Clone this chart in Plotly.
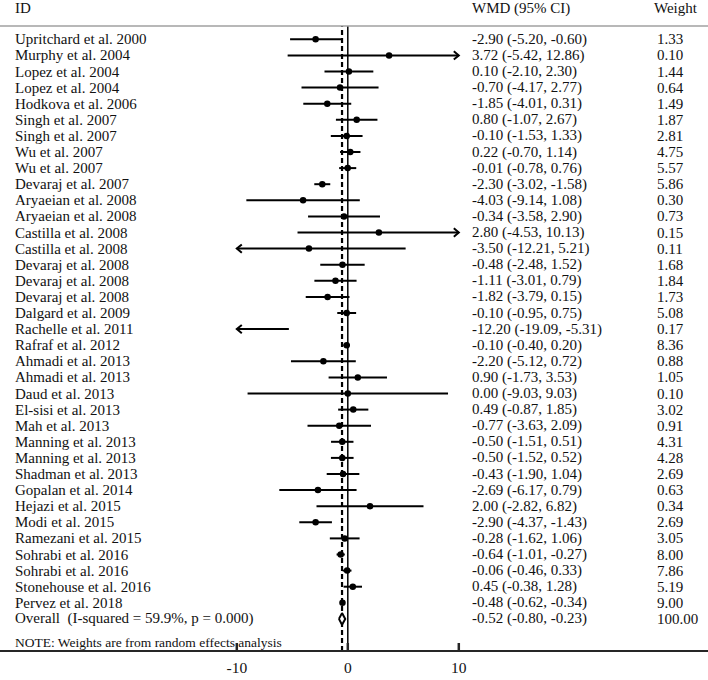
import plotly.graph_objects as go

# ---------------- data ----------------
studies = [
    "Upritchard et al. 2000", "Murphy et al. 2004", "Lopez et al. 2004", "Lopez et al. 2004",
    "Hodkova et al. 2006", "Singh et al. 2007", "Singh et al. 2007", "Wu et al. 2007",
    "Wu et al. 2007", "Devaraj et al. 2007", "Aryaeian et al. 2008", "Aryaeian et al. 2008",
    "Castilla et al. 2008", "Castilla et al. 2008", "Devaraj et al. 2008", "Devaraj et al. 2008",
    "Devaraj et al. 2008", "Dalgard et al. 2009", "Rachelle et al. 2011", "Rafraf et al. 2012",
    "Ahmadi et al. 2013", "Ahmadi et al. 2013", "Daud et al. 2013", "El-sisi et al. 2013",
    "Mah et al. 2013", "Manning et al. 2013", "Manning et al. 2013", "Shadman et al. 2013",
    "Gopalan et al. 2014", "Hejazi et al. 2015", "Modi et al. 2015", "Ramezani et al. 2015",
    "Sohrabi et al. 2016", "Sohrabi et al. 2016", "Stonehouse et al. 2016", "Pervez et al. 2018",
]
wmd = [-2.90, 3.72, 0.10, -0.70, -1.85, 0.80, -0.10, 0.22, -0.01, -2.30, -4.03, -0.34,
       2.80, -3.50, -0.48, -1.11, -1.82, -0.10, -12.20, -0.10, -2.20, 0.90, 0.00, 0.49,
       -0.77, -0.50, -0.50, -0.43, -2.69, 2.00, -2.90, -0.28, -0.64, -0.06, 0.45, -0.48]
ci_low = [-5.20, -5.42, -2.10, -4.17, -4.01, -1.07, -1.53, -0.70, -0.78, -3.02, -9.14, -3.58,
          -4.53, -12.21, -2.48, -3.01, -3.79, -0.95, -19.09, -0.40, -5.12, -1.73, -9.03, -0.87,
          -3.63, -1.51, -1.52, -1.90, -6.17, -2.82, -4.37, -1.62, -1.01, -0.46, -0.38, -0.62]
ci_high = [-0.60, 12.86, 2.30, 2.77, 0.31, 2.67, 1.33, 1.14, 0.76, -1.58, 1.08, 2.90,
           10.13, 5.21, 1.52, 0.79, 0.15, 0.75, -5.31, 0.20, 0.72, 3.53, 9.03, 1.85,
           2.09, 0.51, 0.52, 1.04, 0.79, 6.82, -1.43, 1.06, -0.27, 0.33, 1.28, -0.34]
weights = [1.33, 0.10, 1.44, 0.64, 1.49, 1.87, 2.81, 4.75, 5.57, 5.86, 0.30, 0.73,
           0.15, 0.11, 1.68, 1.84, 1.73, 5.08, 0.17, 8.36, 0.88, 1.05, 0.10, 3.02,
           0.91, 4.31, 4.28, 2.69, 0.63, 0.34, 2.69, 3.05, 8.00, 7.86, 5.19, 9.00]

overall_label = "Overall  (I-squared = 59.9%, p = 0.000)"
overall_wmd, overall_low, overall_high, overall_weight = -0.52, -0.80, -0.23, 100.00
note_text = "NOTE: Weights are from random effects analysis"
tick_values = [-10, 0, 10]
tick_labels = ["-10", "0", "10"]
clip_lo, clip_hi = -10, 10

# ---------------- layout constants ----------------
W, H = 708, 680
FONT = "Liberation Serif"
TXT = "#111111"
AXIS_COLOR = "#262626"
ROW0_PX, ROW_STEP = 39.3, 16.1
TOP_PX, BOT_PX = 26, 651
PLOT_H = BOT_PX - TOP_PX
ZERO_PX, PX_PER_UNIT = 347.8, 11.1
TICK_LEN_PX = 8

def px_to_row(px):
    return 1 + (px - ROW0_PX) / ROW_STEP

n = len(studies)
rows = list(range(1, n + 1))
overall_row = n + 1

fig = go.Figure()

# CI lines (clipped)
lx, ly = [], []
for r, lo, hi in zip(rows, ci_low, ci_high):
    lx += [max(lo, clip_lo), min(hi, clip_hi), None]
    ly += [r, r, None]
fig.add_trace(go.Scatter(x=lx, y=ly, mode="lines", line=dict(color="black", width=2),
                         hoverinfo="skip", showlegend=False))

# arrow heads for clipped CIs
ax, ay = [], []
ah_w, ah_h = 0.45, 0.26
for r, lo, hi in zip(rows, ci_low, ci_high):
    if hi > clip_hi:
        ax += [clip_hi - ah_w, clip_hi, clip_hi - ah_w, None]
        ay += [r - ah_h, r, r + ah_h, None]
    if lo < clip_lo:
        ax += [clip_lo + ah_w, clip_lo, clip_lo + ah_w, None]
        ay += [r - ah_h, r, r + ah_h, None]
fig.add_trace(go.Scatter(x=ax, y=ay, mode="lines", line=dict(color="black", width=2),
                         hoverinfo="skip", showlegend=False))

# point estimates within range
px_, py_ = [], []
for r, e in zip(rows, wmd):
    if clip_lo <= e <= clip_hi:
        px_.append(e)
        py_.append(r)
fig.add_trace(go.Scatter(x=px_, y=py_, mode="markers",
                         marker=dict(symbol="circle", size=6.5, color="black"),
                         hoverinfo="skip", showlegend=False))

# overall diamond
dh = 0.36
fig.add_trace(go.Scatter(
    x=[overall_low, overall_wmd, overall_high, overall_wmd, overall_low],
    y=[overall_row, overall_row - dh, overall_row, overall_row + dh, overall_row],
    mode="lines", fill="toself", fillcolor="white",
    line=dict(color="black", width=2), hoverinfo="skip", showlegend=False))

# reference lines
fig.add_shape(type="line", x0=0, x1=0, xref="x", y0=0, y1=1, yref="paper",
              line=dict(color="black", width=1.5), layer="below")
fig.add_shape(type="line", x0=overall_wmd, x1=overall_wmd, xref="x", y0=0, y1=1, yref="paper",
              line=dict(color="black", width=2.2, dash="5px,3px"), layer="below")
# header rule
fig.add_shape(type="line", x0=0, x1=1, xref="paper", y0=1, y1=1, yref="paper",
              line=dict(color="#a0a0a0", width=1.5))
# bottom axis rule and tick marks
fig.add_shape(type="line", x0=0, x1=1, xref="paper", y0=0, y1=0, yref="paper",
              line=dict(color=AXIS_COLOR, width=2))
for tv in tick_values:
    fig.add_shape(type="line", x0=tv, x1=tv, xref="x", y0=0, y1=TICK_LEN_PX / PLOT_H,
                  yref="paper", line=dict(color=AXIS_COLOR, width=2.5))

annotations = []
X_ID, X_WMD, X_WT = 13 / W, 470 / W, 655 / W
FS = 15
header_y = (BOT_PX - 8) / PLOT_H
for txt, x in [("ID", X_ID), ("WMD (95% CI)", X_WMD), ("Weight", X_WT - 3 / W)]:
    annotations.append(dict(x=x, y=header_y, xref="paper", yref="paper", text=txt,
                            showarrow=False, xanchor="left", yanchor="middle",
                            font=dict(family=FONT, size=FS, color=TXT)))

def fmt(v):
    return f"{v:.2f}"

all_labels = studies + [overall_label]
all_est = wmd + [overall_wmd]
all_lo = ci_low + [overall_low]
all_hi = ci_high + [overall_high]
all_wt = weights + [overall_weight]
for r, lab, e, lo, hi, wt in zip(rows + [overall_row], all_labels, all_est, all_lo, all_hi, all_wt):
    annotations.append(dict(x=X_ID, y=r, xref="paper", yref="y", text=lab, showarrow=False,
                            xanchor="left", yanchor="middle",
                            font=dict(family=FONT, size=FS, color=TXT)))
    annotations.append(dict(x=X_WMD, y=r, xref="paper", yref="y",
                            text=f"{fmt(e)} ({fmt(lo)}, {fmt(hi)})", showarrow=False,
                            xanchor="left", yanchor="middle",
                            font=dict(family=FONT, size=FS, color=TXT)))
    annotations.append(dict(x=X_WT, y=r, xref="paper", yref="y", text=f"{wt:.2f}",
                            showarrow=False, xanchor="left", yanchor="middle",
                            font=dict(family=FONT, size=FS, color=TXT)))

annotations.append(dict(x=X_ID, y=px_to_row(642), xref="paper", yref="y", text=note_text,
                        showarrow=False, xanchor="left", yanchor="middle",
                        font=dict(family=FONT, size=13.5, color=TXT)))

x_min = -ZERO_PX / PX_PER_UNIT
x_max = (W - ZERO_PX) / PX_PER_UNIT

fig.update_layout(
    width=W, height=H,
    margin=dict(l=0, r=0, t=TOP_PX, b=H - BOT_PX, pad=0),
    paper_bgcolor="white", plot_bgcolor="white",
    annotations=annotations,
    xaxis=dict(range=[x_min, x_max], tickvals=tick_values, ticktext=tick_labels,
               ticks="", showline=False,
               showgrid=False, zeroline=False, fixedrange=True,
               ticklabelstandoff=5,
               tickfont=dict(family=FONT, size=15.5, color=TXT)),
    yaxis=dict(range=[px_to_row(BOT_PX), px_to_row(TOP_PX)], visible=False,
               showgrid=False, zeroline=False, fixedrange=True),
    showlegend=False,
)

fig.write_html(
    "out.html",
    config={"displayModeBar": False, "responsive": False},
    post_script="document.body.style.margin='0';document.body.style.overflow='hidden';",
)
